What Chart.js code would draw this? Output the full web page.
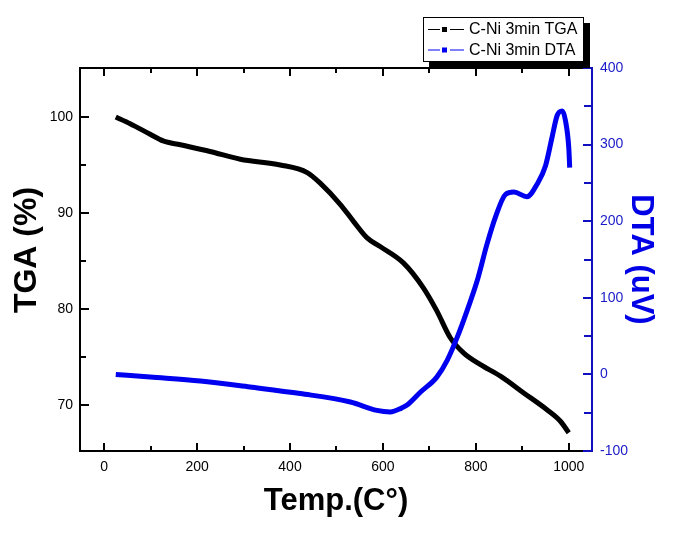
<!DOCTYPE html>
<html><head><meta charset="utf-8">
<script src="https://cdn.jsdelivr.net/npm/chart.js@4.4.1/dist/chart.umd.min.js"></script>
<style>html,body{margin:0;padding:0;background:#fff}#wrap{width:677px;height:548px}</style>
</head><body><div id="wrap"><canvas id="c" width="677" height="548"></canvas></div>
<script>
// ---- data ----
const tgaTemp   = [25, 56, 99, 127, 164, 228, 293, 379, 437, 465, 508, 537, 566, 594, 644, 687, 716, 745, 774, 810, 853, 903, 953, 982, 1000];
const tgaValues = [100.0, 99.3, 98.2, 97.5, 97.1, 96.4, 95.6, 95.0, 94.2, 93.1, 90.9, 89.1, 87.4, 86.5, 84.8, 82.2, 79.8, 77.0, 75.4, 74.2, 73.0, 71.25, 69.5, 68.3, 67.1];
const dtaTemp   = [25, 99, 207, 314, 422, 530, 587, 616, 640, 652, 681, 716, 738, 760, 781, 803, 824, 842, 864, 882, 910, 932, 950, 964, 975, 986, 993, 1000, 1002];
const dtaValues = [0, -3.5, -8.7, -16.5, -25, -36, -47, -49, -44, -40, -23, -3.5, 18, 48.6, 83, 122.5, 170, 205, 235, 238, 232, 248.6, 272.5, 309.5, 338, 344, 331, 296, 270];

const xTicks        = [0, 200, 400, 600, 800, 1000];
const xMinorTicks   = [100, 300, 500, 700, 900];
const tgaTicks      = [70, 80, 90, 100];
const tgaMinorTicks = [75, 85, 95];
const dtaTicks      = [-100, 0, 100, 200, 300, 400];
const dtaMinorTicks = [-50, 50, 150, 250, 350];

const seriesLabels = ['C-Ni 3min TGA', 'C-Ni 3min DTA'];
const xTitle = 'Temp.(C°)';
const tgaTitle = 'TGA (%)';
const dtaTitle = 'DTA (uV)';

const FONT = "'Liberation Sans', Arial, Helvetica, sans-serif";
const BLACK = '#000000';
const LINE_BLUE = '#0000f0';
const AXIS_BLUE = '#1010c0';
const LABEL_BLUE = '#1a1ac8';

const frameTicks = {
  id: 'frameTicks',
  afterDatasetsDraw(chart) {
    const {ctx, chartArea: a, scales: {x, y, y1}} = chart;
    ctx.save();
    ctx.lineWidth = 2;
    ctx.lineCap = 'butt';
    ctx.strokeStyle = BLACK;
    ctx.beginPath();
    ctx.moveTo(a.right, a.top); ctx.lineTo(a.left, a.top);
    ctx.lineTo(a.left, a.bottom); ctx.lineTo(a.right, a.bottom);
    const xt = (arr, len) => arr.forEach(v => {
      const p = Math.round(x.getPixelForValue(v));
      ctx.moveTo(p, a.bottom); ctx.lineTo(p, a.bottom - len);
      ctx.moveTo(p, a.top); ctx.lineTo(p, a.top + len);
    });
    xt(xTicks, 8); xt(xMinorTicks, 5);
    const yt = (arr, len) => arr.forEach(v => {
      const p = Math.round(y.getPixelForValue(v));
      ctx.moveTo(a.left, p); ctx.lineTo(a.left + len, p);
    });
    yt(tgaTicks, 9); yt(tgaMinorTicks, 6);
    ctx.stroke();
    ctx.strokeStyle = AXIS_BLUE;
    ctx.beginPath();
    ctx.moveTo(a.right, a.top - 1); ctx.lineTo(a.right, a.bottom + 1);
    const rt = (arr, len) => arr.forEach(v => {
      const p = Math.round(y1.getPixelForValue(v));
      ctx.moveTo(a.right, p); ctx.lineTo(a.right - len, p);
    });
    rt(dtaTicks, 9); rt(dtaMinorTicks, 8);
    ctx.stroke();
    ctx.restore();
  },
  afterDraw(chart) {
    const ctx = chart.ctx;
    ctx.save();
    // left axis title
    ctx.translate(27, 250);
    ctx.rotate(-Math.PI / 2);
    ctx.fillStyle = BLACK;
    ctx.font = 'bold 32px ' + FONT;
    ctx.textAlign = 'center';
    ctx.textBaseline = 'middle';
    ctx.fillText(tgaTitle, 0, 0);
    ctx.restore();

    // legend
    const bx = 423, by = 17, bw = 161, bh = 45;
    ctx.save();
    ctx.fillStyle = BLACK;
    ctx.fillRect(bx + 6, by + 6, bw, bh);
    ctx.fillStyle = '#fff';
    ctx.fillRect(bx, by, bw, bh);
    ctx.strokeStyle = BLACK; ctx.lineWidth = 1;
    ctx.strokeRect(bx + 0.5, by + 0.5, bw - 1, bh - 1);
    chart.data.datasets.forEach((ds, i) => {
      const cy = by + 12 + i * 20.5;
      ctx.strokeStyle = ds.borderColor; ctx.lineWidth = 1;
      ctx.beginPath();
      ctx.moveTo(bx + 5, cy + 0.5); ctx.lineTo(bx + 17, cy + 0.5);
      ctx.moveTo(bx + 27, cy + 0.5); ctx.lineTo(bx + 41, cy + 0.5);
      ctx.stroke();
      ctx.fillStyle = ds.borderColor;
      ctx.fillRect(bx + 19, cy - 2, 5, 5);
      ctx.fillStyle = BLACK;
      ctx.font = '16px ' + FONT;
      ctx.textBaseline = 'middle';
      ctx.textAlign = 'left';
      ctx.fillText(ds.label, bx + 46, cy + 1);
    });
    ctx.restore();
  }
};

new Chart(document.getElementById('c'), {
  type: 'line',
  data: {
    datasets: [
      { label: seriesLabels[0], data: tgaTemp.map((t, i) => ({x: t, y: tgaValues[i]})),
        borderColor: BLACK, backgroundColor: BLACK, borderWidth: 5, yAxisID: 'y', order: 1,
        cubicInterpolationMode: 'monotone', pointRadius: 0, fill: false },
      { label: seriesLabels[1], data: dtaTemp.map((t, i) => ({x: t, y: dtaValues[i]})),
        borderColor: LINE_BLUE, backgroundColor: LINE_BLUE, borderWidth: 5, yAxisID: 'y1', order: 0,
        cubicInterpolationMode: 'monotone', pointRadius: 0, fill: false }
    ]
  },
  options: {
    responsive: false, animation: false, devicePixelRatio: 1,
    layout: {padding: {top: 68, left: 0, right: 0, bottom: 0}},
    plugins: {legend: {display: false}, tooltip: {enabled: false}},
    scales: {
      x: {
        type: 'linear', position: 'bottom', min: -52, max: 1050,
        afterBuildTicks: s => { s.ticks = xTicks.map(v => ({value: v})); },
        afterFit: s => { s.height = 97; },
        grid: {display: false, drawTicks: false}, border: {display: false},
        ticks: {padding: 8, color: BLACK, font: {family: FONT, size: 14}, maxRotation: 0,
                callback: v => String(v)},
        title: {display: true, text: xTitle, color: BLACK,
                font: {family: FONT, size: 31, weight: 'bold'}, padding: {top: 0, bottom: 28}}
      },
      y: {
        type: 'linear', position: 'left', min: 65.2, max: 105.1,
        afterBuildTicks: s => { s.ticks = tgaTicks.map(v => ({value: v})); },
        afterFit: s => { s.width = 80; },
        grid: {display: false, drawTicks: false}, border: {display: false},
        ticks: {padding: 7, color: BLACK, font: {family: FONT, size: 14}, callback: v => String(v)},
        title: {display: false, text: tgaTitle}
      },
      y1: {
        type: 'linear', position: 'right', min: -100, max: 400,
        afterBuildTicks: s => { s.ticks = dtaTicks.map(v => ({value: v})); },
        afterFit: s => { s.width = 85; },
        grid: {display: false, drawTicks: false}, border: {display: false},
        ticks: {padding: 8, color: LABEL_BLUE, font: {family: FONT, size: 14}, callback: v => String(v)},
        title: {display: true, text: dtaTitle, color: '#0000e6',
                font: {family: FONT, size: 31, weight: 'bold'}, padding: {top: 18, bottom: 0}}
      }
    }
  },
  plugins: [frameTicks]
});
</script>
</body></html>
